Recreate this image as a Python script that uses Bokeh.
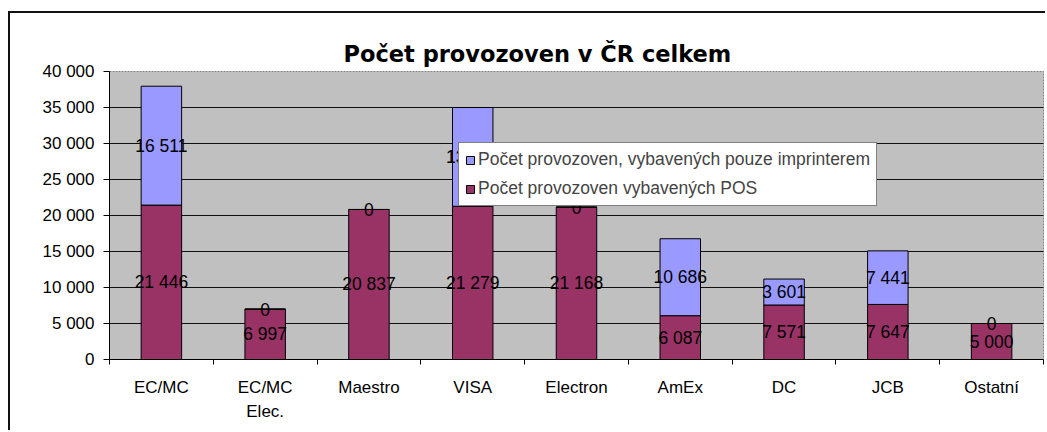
from bokeh.plotting import figure
from bokeh.models import (ColumnDataSource, Range1d, FixedTicker, Legend, LegendItem, Title)
from bokeh.core.properties import value
from bokeh.embed import file_html
from bokeh.resources import INLINE

categories = ["EC/MC", "EC/MC\nElec.", "Maestro", "VISA", "Electron", "AmEx", "DC", "JCB", "Ostatní"]
pos_values = [21446, 6997, 20837, 21279, 21168, 6087, 7571, 7647, 5000]
imprinter_values = [16511, 0, 0, 13721, 0, 10686, 3601, 7441, 0]
y_ticks = [0, 5000, 10000, 15000, 20000, 25000, 30000, 35000, 40000]
y_tick_labels = ["0", "5 000", "10 000", "15 000", "20 000", "25 000", "30 000", "35 000", "40 000"]
series_names = ["Počet provozoven, vybavených pouze imprinterem", "Počet provozoven vybavených POS"]
title_text = "Počet provozoven v ČR celkem"

FONT = "Liberation Sans"

def fmt(v):
    return f"{v:,}".replace(",", " ")

idx = list(range(len(categories)))
src = ColumnDataSource(dict(
    x=idx,
    pos=pos_values,
    imp=imprinter_values,
    pos_mid=[p / 2 for p in pos_values],
    imp_mid=[p + i / 2 for p, i in zip(pos_values, imprinter_values)],
    pos_lbl=[fmt(v) for v in pos_values],
    imp_lbl=[fmt(v) for v in imprinter_values],
))

p = figure(width=1037, height=419, output_backend="svg", toolbar_location=None,
           x_range=Range1d(-0.5, len(categories) - 0.5), y_range=Range1d(0, 40000),
           min_border_left=99, min_border_right=4, min_border_top=58, min_border_bottom=73)
p.margin = (11, 0, 0, 8)
p.styles = {"border-top": "2px solid #111111", "border-left": "2px solid #111111"}

p.title = Title(text=title_text, text_font="DejaVu Sans", text_font_style="bold",
                text_font_size="22.5px", align="left", offset=234, text_color="#000000")

p.background_fill_color = "#C0C0C0"
p.border_fill_color = "#FFFFFF"
p.outline_line_color = "#808080"
p.outline_line_dash = "2 1"

rs = p.vbar_stack(["pos", "imp"], x="x", width=0.39, source=src,
                  fill_color=["#993366", "#9999FF"], line_color="#000000", line_width=1)

p.text(x="x", y="pos_mid", text="pos_lbl", source=src, text_font=value(FONT),
       text_font_size="17.5px", text_align="center", text_baseline="middle", text_color="#000000")
p.text(x="x", y="imp_mid", text="imp_lbl", source=src, text_font=value(FONT),
       text_font_size="17.5px", text_align="center", text_baseline="middle", text_color="#000000")

# axes
p.xaxis.ticker = FixedTicker(ticks=idx, minor_ticks=[i - 0.5 for i in range(len(categories) + 1)])
p.xaxis.major_label_overrides = {i: c for i, c in zip(idx, categories)}
p.xaxis.major_tick_in = 0
p.xaxis.major_tick_out = 0
p.xaxis.minor_tick_in = 0
p.xaxis.minor_tick_out = 5
p.xaxis.minor_tick_line_color = "#000000"
p.xaxis.major_label_standoff = 13
p.xaxis.major_label_text_line_height = 1.3

p.yaxis.ticker = FixedTicker(ticks=y_ticks, minor_ticks=[])
p.yaxis.major_label_overrides = {t: l for t, l in zip(y_ticks, y_tick_labels)}
p.yaxis.major_tick_in = 0
p.yaxis.major_tick_out = 6
p.yaxis.major_label_standoff = 9

for ax in (p.xaxis[0], p.yaxis[0]):
    ax.axis_line_color = "#000000"
    ax.major_tick_line_color = "#000000"
    ax.major_label_text_font = FONT
    ax.major_label_text_font_size = "17px"
    ax.major_label_text_color = "#000000"

p.xgrid.visible = False
p.ygrid.ticker = FixedTicker(ticks=y_ticks[1:-1])
p.ygrid.grid_line_color = "#111111"
p.ygrid.grid_line_width = 1

legend = Legend(items=[LegendItem(label=series_names[0], renderers=[rs[1]]),
                       LegendItem(label=series_names[1], renderers=[rs[0]])],
                location=(349, 153), orientation="vertical",
                background_fill_color="#FFFFFF", background_fill_alpha=1.0,
                border_line_color="#000000", border_line_width=1,
                label_text_font=FONT, label_text_font_size="17.5px",
                glyph_width=10, glyph_height=10, label_standoff=3,
                label_height=20, spacing=8, padding=6, margin=0)
p.add_layout(legend)

open("out.html", "w").write(file_html(p, INLINE))
